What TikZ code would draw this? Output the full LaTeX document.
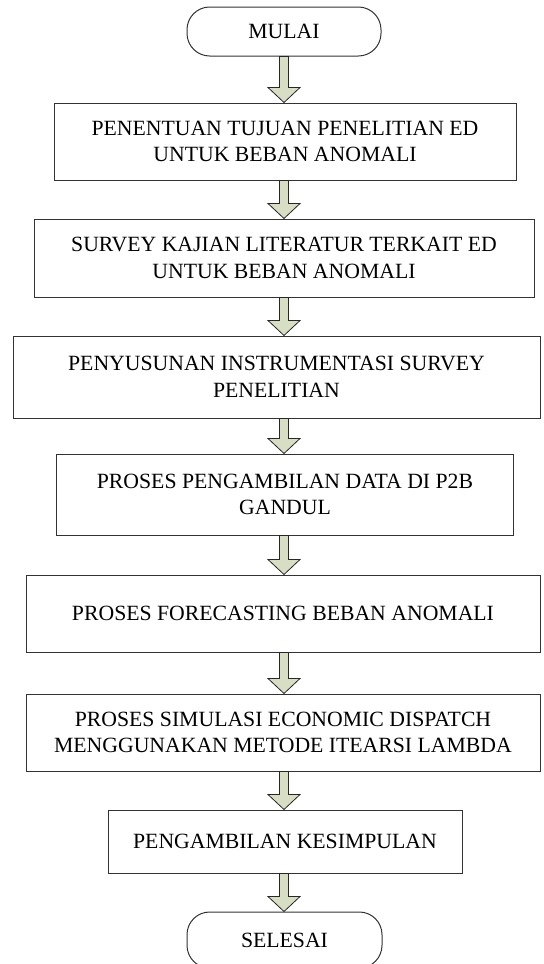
\documentclass[tikz,border=0pt]{standalone}
\usepackage{fontspec}
\setmainfont{Liberation Serif}
\usetikzlibrary{calc}
\definecolor{arrowfill}{RGB}{216,222,196}

\begin{document}
\begin{tikzpicture}[
        x=0.75pt, y=0.75pt,
        process box/.style={draw=black!80, line width=0.75pt, rectangle, align=center, inner sep=0pt, font=\fontsize{16.3}{20}\selectfont},
        terminal/.style={process box, rounded corners=17pt},
        block arrow/.style={draw=black!85, line width=0.6pt, fill=arrowfill, line join=miter}
    ]
	\useasboundingbox (0,0) rectangle (543,-964);
	\coordinate (axis) at (284,0);
	\node[terminal, minimum width=145.5pt, minimum height=36.75pt] (mulai) at (284,-31.5) {MULAI};
	\node[process box, minimum width=346.5pt, minimum height=57.75pt] (tujuan) at (285,-141.5) {PENENTUAN TUJUAN PENELITIAN ED\\UNTUK BEBAN ANOMALI};
	\node[process box, minimum width=375pt, minimum height=58.5pt] (survey) at (284,-258) {SURVEY KAJIAN LITERATUR TERKAIT ED\\UNTUK BEBAN ANOMALI};
	\node[process box, minimum width=395.25pt, minimum height=61.5pt] (instrumen) at (276.5,-377) {PENYUSUNAN INSTRUMENTASI SURVEY\\PENELITIAN};
	\node[process box, minimum width=342.75pt, minimum height=60.75pt] (data) at (285,-494.5) {PROSES PENGAMBILAN DATA DI P2B\\GANDUL};
	\node[process box, minimum width=385.5pt, minimum height=57.75pt] (forecast) at (283,-613.5) {PROSES FORECASTING BEBAN ANOMALI};
	\node[process box, minimum width=385.5pt, minimum height=57.75pt] (simulasi) at (283,-732.5) {PROSES SIMULASI ECONOMIC DISPATCH\\MENGGUNAKAN METODE ITEARSI LAMBDA};
	\node[process box, minimum width=265.5pt, minimum height=47.25pt] (simpulan) at (285,-841.5) {PENGAMBILAN KESIMPULAN};
	\node[terminal, minimum width=146.25pt, minimum height=42pt] (selesai) at (284.5,-940) {SELESAI};
	\foreach \a/\b in {mulai/tujuan, tujuan/survey, survey/instrumen, instrumen/data, data/forecast, forecast/simulasi, simulasi/simpulan, simpulan/selesai}
	{
		\draw[block arrow] ($(\a.south -| axis)+(-4.5,0)$) -- ($(\b.north -| axis)+(-4.5,15)$) -- ($(\b.north -| axis)+(-16,15)$) -- (\b.north -| axis) -- ($(\b.north -| axis)+(16,15)$) -- ($(\b.north -| axis)+(4.5,15)$) -- ($(\a.south -| axis)+(4.5,0)$) -- cycle;
	}
    \end{tikzpicture}
\end{document}
